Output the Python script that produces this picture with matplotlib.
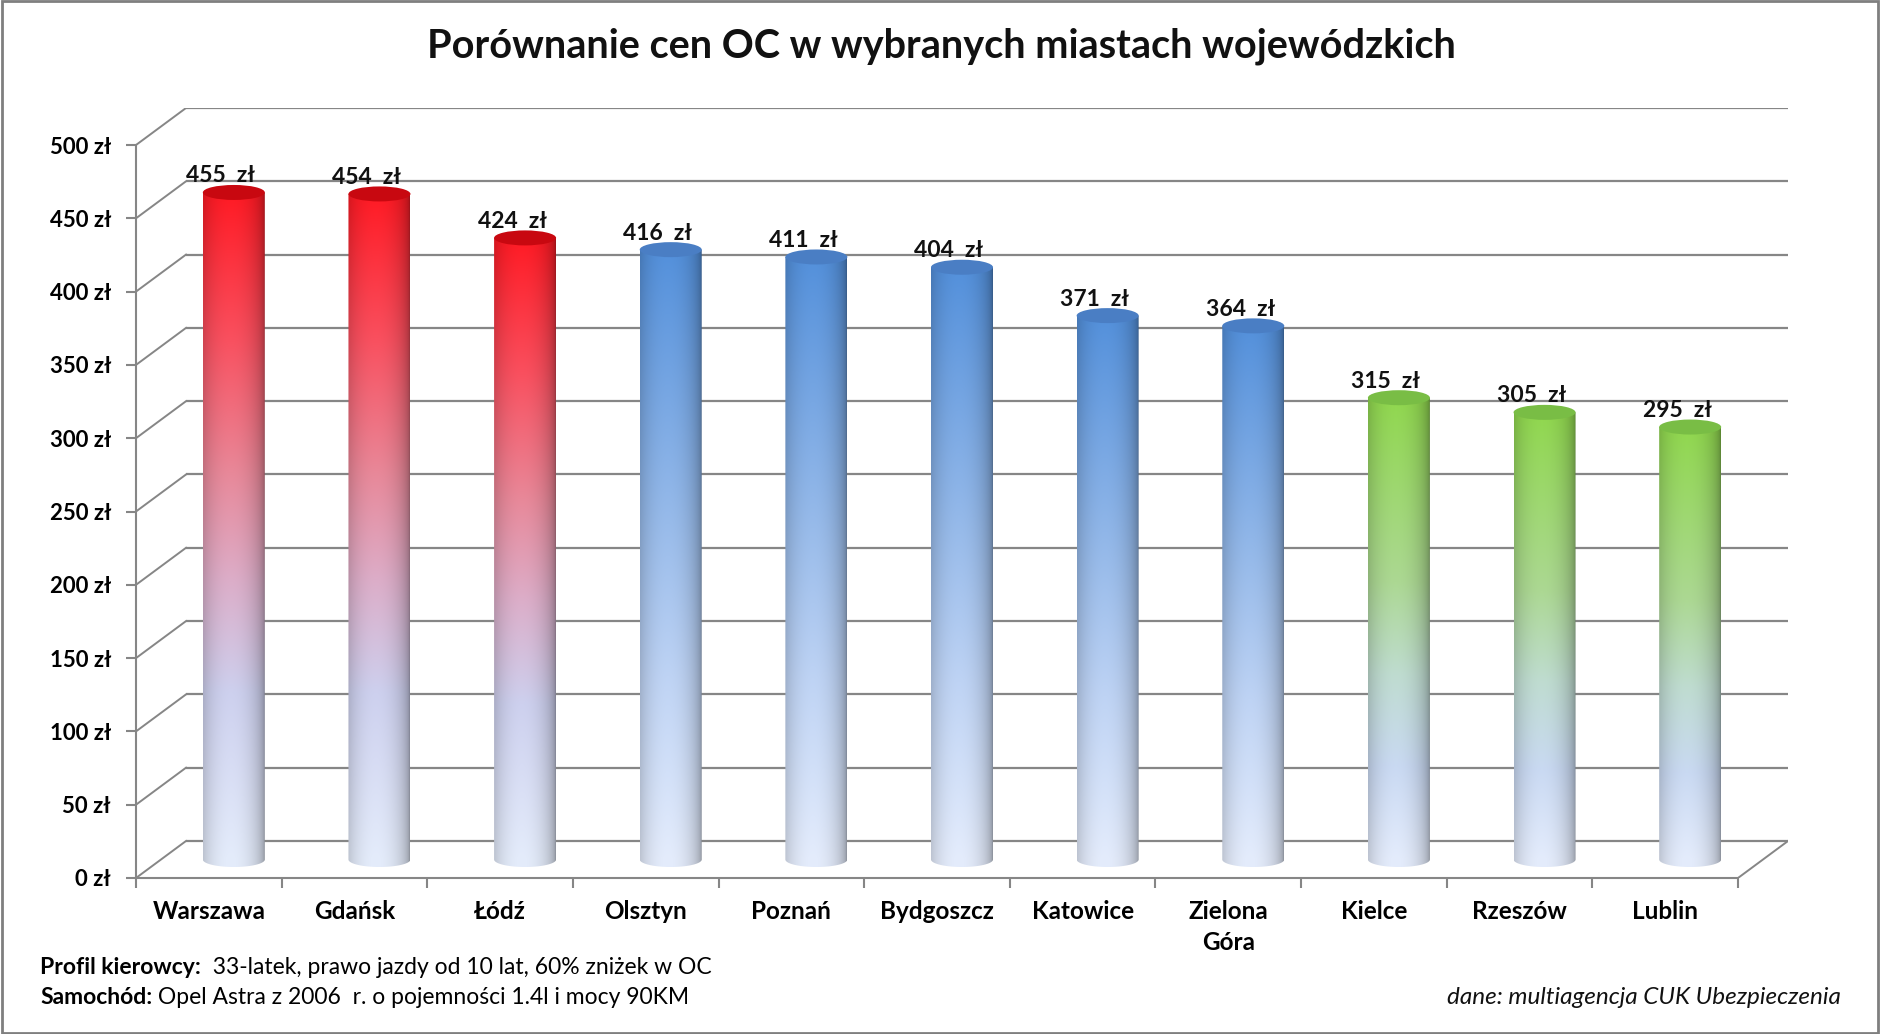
import numpy as np
import matplotlib
matplotlib.use("Agg")
from matplotlib import pyplot as plt
from matplotlib.patches import Ellipse, PathPatch, Rectangle
from matplotlib.path import Path
from matplotlib.colors import to_rgb

plt.rcParams['font.family'] = ['Lato', 'DejaVu Sans']

# dane
cities = ["Warszawa", "Gdańsk", "Łódź", "Olsztyn", "Poznań", "Bydgoszcz",
          "Katowice", "Zielona\nGóra", "Kielce", "Rzeszów", "Lublin"]
prices = [455, 454, 424, 416, 411, 404, 371, 364, 315, 305, 295]
groups = ["red", "red", "red", "blue", "blue", "blue", "blue", "blue",
          "green", "green", "green"]
y_ticks = list(range(0, 501, 50))

title = "Porównanie cen OC w wybranych miastach wojewódzkich"
note1_bold = "Profil kierowcy:"
note1 = "  33-latek, prawo jazdy od 10 lat, 60% zniżek w OC"
note2_bold = "Samochód:"
note2 = " Opel Astra z 2006  r. o pojemności 1.4l i mocy 90KM"
source = "dane: multiagencja CUK Ubezpieczenia"

# gradienty (pozycja od dołu 0..1, kolor)
gradients = {
    "red": [(0.0, "#e4ecfb"), (0.25, "#cdd0ee"), (0.42, "#dcadc8"),
            (0.58, "#e88899"), (0.78, "#f9505f"), (1.0, "#ff1a24")],
    "blue": [(0.0, "#e4ecfc"), (0.3, "#bed3f4"), (0.55, "#98bbea"),
             (1.0, "#5390db")],
    "green": [(0.0, "#e4ecfc"), (0.2, "#c9d9f2"), (0.4, "#bfdcd0"),
              (0.6, "#acd893"), (1.0, "#90d74e")],
}
cap_colors = {"red": "#c80810", "blue": "#4a7ec4", "green": "#79bd45"}
grid_color = "#868686"

DX = 50 / 145.64   # głębokość w jednostkach kategorii
DY = 37 / 1.466    # głębokość w jednostkach wartości
W = 31 / 145.64    # połowa szerokości walca
E = 7.5 / 1.466    # półoś elipsy

fig = plt.figure(figsize=(18.8, 10.34), dpi=100)
ax = fig.add_axes([136 / 1880, 156 / 1034, 1652 / 1880, 770 / 1034])
ax.set_xlim(-0.5, 10.5 + DX)
ax.set_ylim(0, 500 + DY)

for s in ["top", "right"]:
    ax.spines[s].set_visible(False)
for s in ["left", "bottom"]:
    ax.spines[s].set_color(grid_color)
    ax.spines[s].set_linewidth(1.5)
ax.spines["left"].set_bounds(0, 500)
ax.spines["bottom"].set_bounds(-0.5, 10.5)

ax.set_yticks(y_ticks)
ax.set_yticklabels([f"{v} zł" for v in y_ticks])
ax.tick_params(axis="y", direction="out", length=7, width=1.5,
               color=grid_color, pad=11, labelsize=16)
ax.set_xticks(np.arange(-0.5, 11, 1.0))
ax.set_xticklabels([])
ax.set_xticks(np.arange(len(cities)), minor=True)
ax.set_xticklabels(cities, minor=True)
ax.tick_params(axis="x", which="major", direction="out", length=7,
               width=1.5, color=grid_color)
ax.tick_params(axis="x", which="minor", length=0, pad=16, labelsize=17.5)
for lab in ax.get_yticklabels() + ax.get_xticklabels(minor=True):
    lab.set_fontweight("bold")
    lab.set_linespacing(1.4)

# ściany i podłoga
for v in y_ticks:
    ax.plot([-0.5 + DX, 10.5 + DX], [v + DY, v + DY], color=grid_color,
            lw=1.6, zorder=1, solid_capstyle="butt")
    ax.plot([-0.5, -0.5 + DX], [v, v + DY], color=grid_color, lw=1.4,
            zorder=1)
ax.plot([10.5, 10.5 + DX], [0, DY], color=grid_color, lw=1.4, zorder=1)


def grad_colors(stops, t):
    pos = np.array([p for p, _ in stops])
    cols = np.array([to_rgb(c) for _, c in stops])
    return np.stack([np.interp(t, pos, cols[:, k]) for k in range(3)], axis=-1)


u = np.linspace(-1, 1, 120)
s = np.clip(1 - ((u + 0.1) / 1.1) ** 2, 0, 1)
shade = 0.6 + 0.4 * np.sqrt(s)

for i, (v, g) in enumerate(zip(prices, groups)):
    cx = i + DX / 2
    base = DY / 2
    top = v + DY / 2
    # obrys walca
    th = np.linspace(0, -np.pi, 60)
    verts = [(cx - W, top), (cx + W, top)]
    verts += list(zip(cx + W * np.cos(th), base + E * np.sin(th)))
    verts.append((cx - W, top))
    path = Path(verts, closed=True)
    patch = PathPatch(path, facecolor="none", edgecolor="none")
    ax.add_patch(patch)
    ys = np.linspace(base - E, top, 300)
    t = np.clip((ys - base) / (top - base), 0, 1)
    col = grad_colors(gradients[g], t)
    img = col[:, None, :] * shade[None, :, None]
    im = ax.imshow(img, extent=(cx - W, cx + W, base - E, top),
                   origin="lower", aspect="auto", interpolation="bilinear",
                   zorder=3)
    im.set_clip_path(patch)
    cap = Ellipse((cx, top), 2 * W, 2 * E, facecolor=cap_colors[g],
                  edgecolor="none", zorder=4)
    ax.add_patch(cap)
    ax.text(cx - 0.09, top + E * 0.8, f"{v}  zł", ha="center", va="bottom",
            fontsize=16.5, fontweight="bold", color="#111111", zorder=5)

ax.set_xlim(-0.5, 10.5 + DX)
ax.set_ylim(0, 500 + DY)

fig.text(941 / 1880, 1 - 46 / 1034, title, ha="center", va="center",
         fontsize=28.5, fontweight="bold", color="#111111")

t1 = fig.text(40 / 1880, 1 - 968 / 1034, note1_bold, ha="left",
              va="center", fontsize=16.5, fontweight="bold")
ax.annotate(note1, xy=(1, 0), xycoords=t1, ha="left", va="bottom",
            fontsize=16.5, annotation_clip=False)
t2 = fig.text(40 / 1880, 1 - 998 / 1034, note2_bold, ha="left",
              va="center", fontsize=16.5, fontweight="bold")
ax.annotate(note2, xy=(1, 0), xycoords=t2, ha="left", va="bottom",
            fontsize=16.5, annotation_clip=False)
fig.text(1841 / 1880, 1 - 998 / 1034, source, ha="right", va="center",
         fontsize=17.5, style="italic", color="#111111")

fig.patches.append(Rectangle((0.001, 0.001), 0.998, 0.998,
                             transform=fig.transFigure, fill=False,
                             edgecolor="#7f7f7f", lw=2))

fig.savefig("out.png", dpi=100)
